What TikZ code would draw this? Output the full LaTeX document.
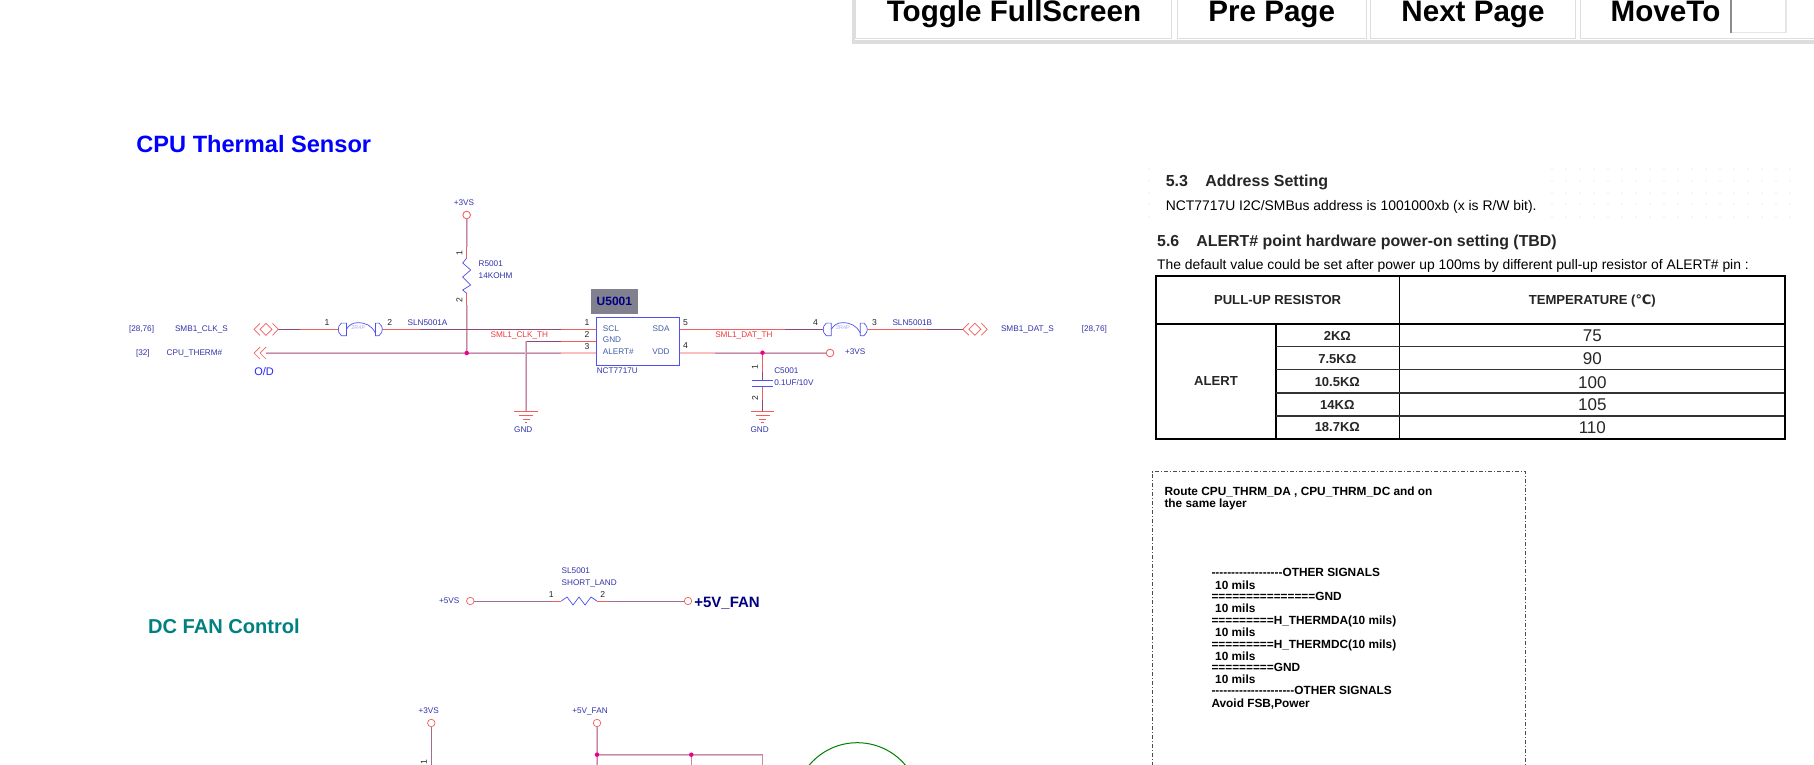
\documentclass[tikz,border=0pt]{standalone}
\usepackage{fontspec}
\setmainfont{Liberation Sans}
\newfontfamily\arl{Liberation Sans}
\newfontfamily\dv{DejaVu Sans}
\newcommand{\fz}[1]{\fontsize{#1}{#1}\selectfont}
\definecolor{sch}{HTML}{3232AC}
\definecolor{pinc}{HTML}{3F5FA8}
\definecolor{wred}{HTML}{F25C5C}
\definecolor{wdark}{HTML}{8A4A78}
\definecolor{wpale}{HTML}{DFBCCC}
\definecolor{wcore}{HTML}{C48AA5}
\definecolor{navy2}{HTML}{000080}
\definecolor{body}{HTML}{5050F0}
\definecolor{btn}{HTML}{DDDDDD}
\definecolor{refgrey}{HTML}{80808F}
\definecolor{netred}{HTML}{F03A3A}
\tikzset{
 txt/.style={inner sep=0pt,outer sep=0pt,text depth=0pt,font=\arl\fz{8.2}},
 lab/.style={txt,anchor=west,text=sch},
 labc/.style={txt,anchor=center,text=sch},
 pinno/.style={txt,anchor=center,text=black!85,font=\arl\fz{8.6}},
 pintxt/.style={txt,text=pinc},
 netname/.style={txt,anchor=center,text=netred},
 wr/.style={draw=wred,line width=0.8pt},
 wd/.style={draw=wdark,line width=0.8pt},
 wp/.style={draw=wpale,line width=2.2pt},
 wc/.style={draw=wcore,line width=0.8pt},
 part/.style={draw=body,line width=0.7pt},
 term/.style={circle,draw=wred,line width=0.7pt,fill=white,minimum size=7.5pt,inner sep=0pt,outer sep=0pt},
 junc/.style={circle,fill=magenta,minimum size=4.5pt,inner sep=0pt,outer sep=0pt},
 gndp/.pic={\draw[wred,line width=0.7pt] (-11.7,0)--(11.7,0) (-7,4)--(7,4) (-3.5,7.5)--(3.5,7.5) (-1.3,11)--(1.3,11);},
 bidirp/.pic={\draw[wred,line width=0.7pt] (6,-6)--(0,0)--(6,6) (6,0)--(12,-6)--(18,0)--(12,6)--cycle (18.5,-6)--(24.3,0)--(18.5,6);},
 leftp/.pic={\draw[wred,line width=0.7pt] (6,-6)--(0,0)--(6,6) (12,-6)--(6,0)--(12,6);},
 capsule/.pic={
   \draw[part] (8.4,-6.2)--(3.4,-6.2)..controls (1,-4.5) and (0.3,-2) .. (0.3,0)..controls (0.3,2) and (1,4.5) .. (3.4,6.4)--(8.4,6.4)--cycle;
   \draw[part] (37.4,-6.2)--(41,-6.2)..controls (43.4,-4.5) and (44.4,-2) .. (44.4,0)..controls (44.4,2) and (43.4,4.5) .. (41,6.4)--(37.4,6.4)--cycle;
   \draw[part] (37.4,3.7)..controls (33.5,-4) and (27.5,-6.6)..(19.7,-6.6)..controls (14,-6.6) and (11,-4) ..(8.4,0);
 },
 hdr/.style={txt,anchor=center,text=black,font=\arl\bfseries\fz{29.6}},
 thd/.style={txt,anchor=center,text=black!85,font=\arl\bfseries\fz{13.1}},
 trs/.style={txt,anchor=center,text=black!85,font=\arl\bfseries\fz{13}},
 tval/.style={txt,anchor=center,text=black!85,font=\arl\fz{17}},
 note/.style={txt,anchor=west,text=black,font=\arl\bfseries\fz{11.85}},
}
\begin{document}
\begin{tikzpicture}[x=1pt,y=-1pt]
\useasboundingbox (0,0) rectangle (1814,765);
\clip (0,0) rectangle (1814,765);
\fill[white] (0,0) rectangle (1814,765);

% ---------- browser toolbar
\fill[btn] (852,40.5) rectangle (1814,44);
\fill[btn] (852,0) rectangle (854.5,44);
\foreach \a/\b in {855.5/1171,1177/1366,1370/1575,1580/1818}{
  \draw[black!13,line width=1pt] (\a,0)--(\a,39)--(\b,39)--(\b,0);
}
\fill[black!45] (1730,0) rectangle (1731.5,33);
\draw[black!10,line width=1.6pt] (1731.5,32.5)--(1786,32.5)--(1786,0);
\node[hdr] (b1) at (1014,11) {Toggle FullScreen};
\node[hdr] (b2) at (1271.7,11) {Pre Page};
\node[hdr] (b3) at (1473,11) {Next Page};
\node[hdr] (b4) at (1665.5,11) {MoveTo};

% ---------- titles
\node[txt,anchor=west,text=blue,font=\arl\bfseries\fz{23.6}] (title1) at (136.4,144) {CPU Thermal Sensor};
\node[txt,anchor=west,text=teal,font=\arl\bfseries\fz{20.1}] (title2) at (148,626) {DC FAN Control};

% ---------- coordinates
\coordinate (rtop) at (466.7,258); \coordinate (rbot) at (466.7,293.3);
\coordinate (jt) at (466.7,353);
\node[term] (t3vs) at (466.7,215) {};
\node[labc] (l3vs) at (464,202.7) {+3VS};
\coordinate (clkport) at (278.3,329.3);
\coordinate (thport) at (266,353);
\coordinate (clkcapL) at (338,329.3);
\coordinate (clkcapR) at (383,329.3);
\coordinate (icL1) at (596.8,329.3); \coordinate (icL2) at (596.8,341.3); \coordinate (icL3) at (596.8,353);
\coordinate (icR1) at (679.3,329.3); \coordinate (icR2) at (679.3,353);
\coordinate (gj) at (526,341.3); \coordinate (g1) at (526,411.7);
\coordinate (g2) at (762.5,411.7);
\coordinate (datL) at (822.5,329.3); \coordinate (datR) at (867.5,329.3);
\coordinate (datport) at (962.9,329.3);
\coordinate (capT) at (762.5,380); \coordinate (capB) at (762.5,386);
\node[term] (tvdd) at (830,353) {};

% ---------- wires, upper schematic
\draw[wp] (t3vs)--(466.7,247);
\draw[wc] (t3vs)--(466.7,247);
\draw[wr] (466.7,247)--(rtop) (rbot)--(466.7,305);
\draw[wp] (466.7,305)--(jt);
\draw[wc] (466.7,305)--(jt);
\draw[wd] (clkport)--(300,329.3);
\draw[wr] (300,329.3)--(clkcapL);
\draw[wr] (clkcapR)--(420,329.3);
\draw[wd] (420,329.3)--(561,329.3);
\draw[wr] (561,329.3)--(icL1);
\draw[wp] (thport)--(561,353);
\draw[wc] (thport)--(561,353);
\draw[wp,draw=wred!40] (561,353)--(icL3);
\draw[wd] (gj)--(561,341.3);
\draw[wr] (561,341.3)--(icL2);
\draw[wp] (gj)--(g1);
\draw[wc] (gj)--(g1);
\draw[wr] (icR1)--(785,329.3);
\draw[wd] (785,329.3)--(datL);
\draw[wr] (datR)--(927,329.3);
\draw[wd] (927,329.3)--(datport);
\draw[wp,draw=wred!40] (icR2)--(715,353);
\draw[wp] (715,353)--(tvdd);
\draw[wc] (715,353)--(tvdd);
\draw[wr] (762.5,353)--(capT);
\draw[wd] (762.5,372)--(capT);
\draw[wr] (capB)--(762.5,400);
\draw[wd] (762.5,400)--(g2);
\node[term] at (t3vs) {};
\node[term] at (tvdd) {};

% resistor
\draw[part] (rtop)--(462.7,263)--(470.7,270)--(462.7,277)--(470.7,285)--(462.7,290)--(rbot);
\node[pinno,rotate=90] (r1a) at (459.3,252.7) {1};
\node[pinno,rotate=90] (r1b) at (459.3,300) {2};
\node[lab] (rref) at (478.7,264) {R5001};
\node[lab] (rval) at (478.7,276) {14KOHM};
\node[junc] (j1) at (jt) {};

% ports
\pic at (254,329.3) {bidirp};
\pic at (254,353) {leftp};
\pic at (962.9,329.3) {bidirp};
\node[lab] (a1) at (129,329) {[28,76]};
\node[lab] (a2) at (175,329) {SMB1\_CLK\_S};
\node[lab] (a3) at (136,352.7) {[32]};
\node[lab] (a4) at (166.7,352.7) {CPU\_THERM\#};
\node[txt,anchor=west,text=blue!85,font=\arl\fz{11}] (od) at (254.3,372) {O/D};
\node[lab] (a5) at (1001,329) {SMB1\_DAT\_S};
\node[lab] (a6) at (1081.8,329) {[28,76]};

% SLN5001A
\pic at (338,329.3) {capsule};
\node[txt,text=body!50,font=\arl\fz{5.5}] (sa) at (358.3,327.6) {2R4P};
\node[pinno] (pa1) at (327,322.7) {1};
\node[pinno] (pa2) at (389.7,322.7) {2};
\node[lab] (sla) at (407.7,323) {SLN5001A};
% SLN5001B
\pic at (822.9,329.3) {capsule};
\node[txt,text=body!50,font=\arl\fz{5.5}] (sb) at (843,327.6) {2R4P};
\node[pinno] (pb1) at (815.4,322.3) {4};
\node[pinno] (pb2) at (874.6,322.3) {3};
\node[lab] (slb) at (892.5,323) {SLN5001B};

% IC
\node[txt,fill=refgrey,minimum width=47pt,minimum height=25pt,text=navy2,font=\arl\bfseries\fz{12}] (ref) at (614.4,301.5) {U5001};
\draw[part,line width=1pt,fill=white] (596.8,317.3) rectangle (679.3,365);
\node[pinno] (p1) at (587,322.7) {1};
\node[pinno] (p2) at (587,334.3) {2};
\node[pinno] (p3) at (587,346) {3};
\node[pinno] (p5) at (685.4,322.3) {5};
\node[pinno] (p4) at (685.4,346) {4};
\node[pintxt,anchor=west] (pscl) at (602.9,328.3) {SCL};
\node[pintxt,anchor=west] (pgnd) at (602.9,340) {GND};
\node[pintxt,anchor=west] (palt) at (602.9,352) {ALERT\#};
\node[pintxt,anchor=east] (psda) at (669.6,328.3) {SDA};
\node[pintxt,anchor=east] (pvdd) at (669.6,352) {VDD};
\node[lab] (icn) at (596.8,370.3) {NCT7717U};
\node[netname] (n1) at (519.3,335) {SML1\_CLK\_TH};
\node[netname] (n2) at (743.9,335) {SML1\_DAT\_TH};
\node[lab] (l3b) at (845,351.7) {+3VS};

% GND
\pic at (g1) {gndp};
\pic at (g2) {gndp};
\node[labc] (g1l) at (523.3,429.3) {GND};
\node[labc] (g2l) at (759.6,429.3) {GND};

% C5001
\draw[part] (752,380)--(773,380) (752,386)--(773,386);
\node[junc] (j2) at (762.5,352.7) {};
\node[pinno,rotate=90] (c1) at (755,366.7) {1};
\node[pinno,rotate=90] (c2) at (755,398.3) {2};
\node[lab] (cref) at (774.3,370.3) {C5001};
\node[lab] (cval) at (774.3,382.3) {0.1UF/10V};

% ---------- SL5001
\node[term] (t5) at (470.3,601) {};
\node[term] (t5f) at (688,601) {};
\coordinate (slL) at (561.3,601); \coordinate (slR) at (597,601);
\draw[wc,draw=wdark!80] (t5)--(551,601);
\draw[wr] (551,601)--(slL);
\draw[wr] (slR)--(609,601);
\draw[wc,draw=wdark!80] (609,601)--(t5f);
\draw[part] (slL)--(567,597)--(573,605)--(579,597)--(585,605)--(591,597)--(slR);
\node[lab] (l5v) at (439,601) {+5VS};
\node[txt,anchor=west,text=navy2,font=\arl\bfseries\fz{15}] (l5f) at (694.3,602) {+5V\_FAN};
\node[lab] (sl1) at (561.7,571) {SL5001};
\node[lab] (sl2) at (561.7,583) {SHORT\_LAND};
\node[pinno] (slp1) at (551.3,594.3) {1};
\node[pinno] (slp2) at (602.7,594.3) {2};

% ---------- lower schematic
\node[term] (t3b) at (431.3,723) {};
\node[term] (t5b) at (597,723) {};
\node[labc] (l3c) at (428.7,710.7) {+3VS};
\node[labc] (l5c) at (590,710.7) {+5V\_FAN};
\coordinate (b3) at (431.3,770);
\coordinate (b5) at (597,770);
\coordinate (bj1) at (597,754.7); \coordinate (bj2) at (691.3,754.7); \coordinate (bc) at (762.3,754.7);
\coordinate (b6) at (691.3,770); \coordinate (b7) at (762.3,770);
\draw[wc,draw=wdark!80] (t3b)--(b3);
\draw[wp] (t5b)--(b5);
\draw[wc] (t5b)--(b5);
\draw[wp] (bj1)--(bc);
\draw[wc] (bj1)--(bc)--(b7);
\draw[wc] (bj2)--(b6);
\node[pinno,rotate=90] (bp1) at (424,761.7) {1};
\node[junc] (jb1) at (bj1) {};
\node[junc] (jb2) at (bj2) {};
\draw[green!50!black,line width=1pt] (857.3,805.5) circle[radius=62.8];

% ---------- datasheet crop
\foreach \yy in {169,181,193,204,217}{
  \foreach \xx in {1552,1566,...,1790}{ \fill[black!14] (\xx,\yy) circle[radius=0.7]; }
  \fill[black!14] (1149,\yy) circle[radius=0.7];
}
\node[txt,anchor=west,text=black!85,font=\arl\bfseries\fz{16}] (h53) at (1165.8,181) {5.3};
\node[txt,anchor=west,text=black!85,font=\arl\bfseries\fz{16}] (h53b) at (1205.4,181) {Address Setting};
\node[txt,anchor=west,text=black,font=\arl\fz{13.9}] (p53) at (1165.8,205) {NCT7717U I2C/SMBus address is 1001000xb (x is R/W bit).};
\node[txt,anchor=west,text=black!85,font=\arl\bfseries\fz{15.9}] (h56) at (1157.2,241) {5.6};
\node[txt,anchor=west,text=black!85,font=\arl\bfseries\fz{15.9}] (h56b) at (1196.3,240.3) {ALERT\# point hardware power-on setting (TBD)};
\node[txt,anchor=west,text=black,font=\arl\fz{13.87}] (p56) at (1157.2,264.3) {The default value could be set after power up 100ms by different pull-up resistor of ALERT\# pin :};

\draw[black,line width=1.3pt] (1275.9,323.7)--(1275.9,439) (1399.7,276)--(1399.7,439);
\draw[black!80,line width=1.3pt] (1275.9,346.7)--(1785,346.7) (1275.9,369.7)--(1785,369.7) (1275.9,393)--(1785,393) (1275.9,416)--(1785,416);
\draw[black,line width=2pt] (1156.3,323.7)--(1785,323.7);
\draw[black,line width=2.2pt] (1156.3,276) rectangle (1785,439.3);
\node[thd] (th1) at (1277.6,300.3) {PULL-UP RESISTOR};
\node[thd] (th2) at (1592.3,299.3) {TEMPERATURE ({\dv ℃})};
\node[thd] (tal) at (1216,381) {ALERT};
\node[trs] (r1) at (1337.3,336) {2KΩ};
\node[trs] (r2) at (1337.3,358.7) {7.5KΩ};
\node[trs] (r3) at (1337.3,382.3) {10.5KΩ};
\node[trs] (r4) at (1337.3,405) {14KΩ};
\node[trs] (r5) at (1337.3,427.3) {18.7KΩ};
\node[tval] (v1) at (1592.3,336) {75};
\node[tval] (v2) at (1592.3,358.7) {90};
\node[tval] (v3) at (1592.3,382.3) {100};
\node[tval] (v4) at (1592.3,405) {105};
\node[tval] (v5) at (1592.3,427.3) {110};

% ---------- note box
\draw[black!70,line width=0.7pt,dash pattern=on 4pt off 2pt on 1pt off 2pt] (1152.3,775)--(1152.3,471.7)--(1525.7,471.7)--(1525.7,775);
\node[note] (m1) at (1164.5,491) {Route CPU\_THRM\_DA , CPU\_THRM\_DC and on};
\node[note] (m2) at (1164.5,502.8) {the same layer};
\node[note] (m3) at (1211.5,572.8) {------------------OTHER SIGNALS};
\node[note] (m4) at (1215.2,584.8) {10 mils};
\node[note] (m5) at (1211.5,596.8) {===============GND};
\node[note] (m6) at (1215.2,608.2) {10 mils};
\node[note] (m7) at (1211.5,620.2) {=========H\_THERMDA(10 mils)};
\node[note] (m8) at (1215.2,632.2) {10 mils};
\node[note] (m9) at (1211.5,643.9) {=========H\_THERMDC(10 mils)};
\node[note] (m10) at (1215.2,655.9) {10 mils};
\node[note] (m11) at (1211.5,667.5) {=========GND};
\node[note] (m12) at (1215.2,679.2) {10 mils};
\node[note] (m13) at (1211.5,690.4) {---------------------OTHER SIGNALS};
\node[note] (m14) at (1211.5,702.9) {Avoid FSB,Power};
\end{tikzpicture}
\end{document}
